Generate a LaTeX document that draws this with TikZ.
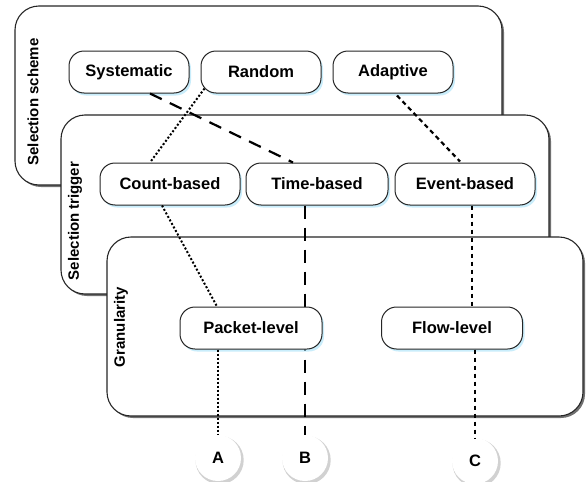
\documentclass[tikz,border=0pt]{standalone}
\usepackage{fontspec}
\setmainfont{Liberation Sans}
\usetikzlibrary{shadows}
\tikzset{
  panel/.style={draw=black!85, line width=1.1pt, fill=white, rounded corners=24pt,
    drop shadow={shadow xshift=2pt, shadow yshift=-2pt, fill=black!70, opacity=0.8}},
  plabel/.style={rotate=90, font=\bfseries\fontsize{15}{17}\selectfont},
  item/.style={draw=black!85, line width=1pt, fill=white, rounded corners=15pt,
    minimum height=42pt, inner sep=0pt, font=\bfseries\fontsize{16.5}{18}\selectfont,
    drop shadow={shadow xshift=2pt, shadow yshift=-2.5pt, fill=cyan!35, opacity=0.6}},
  endpt/.style={circle, fill=white, minimum size=46pt, inner sep=0pt,
    font=\bfseries\fontsize{16.5}{18}\selectfont,
    drop shadow={shadow xshift=1.5pt, shadow yshift=-2pt, shadow scale=1.05, fill=black!45, opacity=0.4}},
  longdash/.style={line width=2.2pt, dash pattern=on 13pt off 9pt},
  shortdash/.style={line width=2.2pt, dash pattern=on 4.5pt off 3.5pt},
  dotline/.style={line width=2pt, dash pattern=on 2pt off 2pt}
}
\begin{document}
\begin{tikzpicture}[x=1pt,y=-1pt]
\useasboundingbox (0,0) rectangle (587,482);
% panels
\draw[panel] (15,6) rectangle (502,185);
\node[plabel] (lscheme) at (33,102) {Selection scheme};
\draw[panel] (61,115) rectangle (549,294);
\node[plabel] (ltrigger) at (75,221) {Selection trigger};
\draw[panel] (107,237) rectangle (583,416);
\node[plabel] (lgran) at (121,327) {Granularity};
% nodes
\path
  node[item, minimum width=120pt] (sys) at (129,72) {Systematic}
  node[item, minimum width=120pt] (rand) at (261,72) {Random}
  node[item, minimum width=120pt] (adap) at (393,72) {Adaptive}
  node[item, minimum width=140pt] (count) at (170,184) {Count-based}
  node[item, minimum width=142pt] (time) at (317,184) {Time-based}
  node[item, minimum width=140pt] (event) at (465,184) {Event-based};
\node[endpt] (A) at (218,458) {A};
\node[endpt] (B) at (305,458) {B};
\node[endpt] (C) at (475,461) {C};
% connectors behind lower nodes
\draw[longdash] ([shift={(21,0)}]sys.south) -- ([shift={(-24,0)}]time.north);
\draw[dotline] ([shift={(4,-5)}]rand.south west) -- ([shift={(-20,0)}]count.north);
\draw[shortdash] ([shift={(4,2)}]adap.south) -- ([shift={(-5,-1)}]event.north);
\draw[longdash] ([shift={(-12,0)}]time.south) -- (B.north);
\path
  node[item, minimum width=142pt] (pkt) at (251,328) {Packet-level}
  node[item, minimum width=141pt] (flow) at (452,328) {Flow-level};
\draw[dotline] ([shift={(-8,0)}]count.south) -- ([shift={(-34,0)}]pkt.north);
\draw[shortdash] ([shift={(7,0)}]event.south) -- ([shift={(20,0)}]flow.north);
\draw[shortdash] ([shift={(23,0)}]flow.south) -- (C.north);
\draw[dotline] ([shift={(-33,0)}]pkt.south) -- (A.north);
\end{tikzpicture}
\end{document}
